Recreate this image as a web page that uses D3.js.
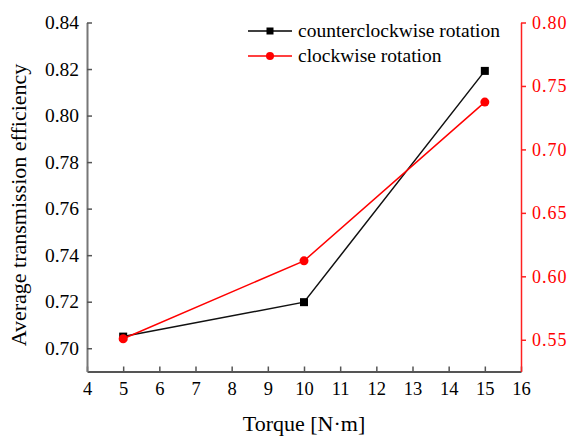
<!DOCTYPE html>
<html><head><meta charset="utf-8">
<script src="https://cdn.jsdelivr.net/npm/d3@7"></script>
<style>body{margin:0;background:#fff}svg{display:block}svg text{font-family:"Times New Roman","Liberation Serif",serif !important}</style>
</head><body><svg id="c" width="575" height="437"></svg>
<script>
const torque = [5, 10, 15];
const ccwEfficiency = [0.705, 0.7198, 0.8192];
const cwEfficiency = [0.5508, 0.6122, 0.7373];
const xTicks = [4,5,6,7,8,9,10,11,12,13,14,15,16];
const leftTicks = [0.70,0.72,0.74,0.76,0.78,0.80,0.82,0.84];
const rightTicks = [0.55,0.60,0.65,0.70,0.75,0.80];
const seriesNames = ["counterclockwise rotation","clockwise rotation"];

const L=87, R=521, T=22.5, B=371.5;
const svg=d3.select("#c");
const x=d3.scaleLinear().domain([4,16]).range([L,R]);
const yL=d3.scaleLinear().domain([0.69,0.84]).range([B,T]);
const yR=d3.scaleLinear().domain([0.525,0.80]).range([B,T]);
const FF='"Times New Roman","Liberation Serif",serif';

// bottom axis (ticks inward)
const gx=svg.append("g").attr("transform",`translate(0,${B})`)
  .call(d3.axisBottom(x).tickValues(xTicks).tickFormat(d3.format("d")).tickSizeInner(-5).tickSizeOuter(0).tickPadding(10));
gx.attr("font-family",FF);
gx.select(".domain").attr("stroke","#555").attr("stroke-width",2);
gx.selectAll(".tick line").attr("stroke","#555").attr("stroke-width",1.5);
gx.selectAll("text").attr("font-size",18.5).attr("fill","#000").style("font-family",FF);

// left axis (ticks inward)
const gl=svg.append("g").attr("transform",`translate(${L},0)`)
  .call(d3.axisLeft(yL).tickValues(leftTicks).tickFormat(d3.format(".2f")).tickSizeInner(-5).tickSizeOuter(0).tickPadding(8));
gl.attr("font-family",FF);
gl.select(".domain").attr("stroke","#777").attr("stroke-width",2);
gl.selectAll(".tick line").attr("stroke","#555").attr("stroke-width",1.5);
gl.selectAll("text").attr("font-size",19.5).attr("fill","#000").style("font-family",FF);

// right axis (ticks outward, red)
const gr=svg.append("g").attr("transform",`translate(${R},0)`)
  .call(d3.axisRight(yR).tickValues(rightTicks).tickFormat(d3.format(".2f")).tickSize(5).tickSizeOuter(0).tickPadding(6));
gr.attr("font-family",FF);
gr.select(".domain").attr("stroke","#ff2020").attr("stroke-width",1.5);
gr.selectAll(".tick line").attr("stroke","#ff2020").attr("stroke-width",1.5);
gr.selectAll("text").attr("font-size",18).attr("fill","#ff0000").attr("letter-spacing","1px").style("font-family",FF);

// axis titles
svg.append("text").attr("transform",`translate(26,${(T+B)/2+8}) rotate(-90)`).attr("text-anchor","middle")
  .attr("font-size",22).style("font-family",FF).text("Average transmission efficiency");
svg.append("text").attr("x",(L+R)/2).attr("y",431).attr("text-anchor","middle")
  .attr("font-size",22).style("font-family",FF).text("Torque [N·m]");

// series
const ccw=torque.map((t,i)=>[t,ccwEfficiency[i]]);
const cw=torque.map((t,i)=>[t,cwEfficiency[i]]);
svg.append("path").datum(ccw).attr("fill","none").attr("stroke","#111").attr("stroke-width",1.5)
  .attr("d",d3.line().x(d=>x(d[0])).y(d=>yL(d[1])));
svg.append("path").datum(cw).attr("fill","none").attr("stroke","#ff0000").attr("stroke-width",1.5)
  .attr("d",d3.line().x(d=>x(d[0])).y(d=>yR(d[1])));
svg.selectAll(".sq").data(ccw).enter().append("rect")
  .attr("x",d=>x(d[0])-4).attr("y",d=>yL(d[1])-4).attr("width",8).attr("height",8).attr("fill","#000");
svg.selectAll(".ci").data(cw).enter().append("circle")
  .attr("cx",d=>x(d[0])).attr("cy",d=>yR(d[1])).attr("r",4.5).attr("fill","#ff0000");

// legend
const lg=svg.append("g");
const ly=[31,56];
lg.append("line").attr("x1",248).attr("x2",292).attr("y1",ly[0]).attr("y2",ly[0]).attr("stroke","#000").attr("stroke-width",1.5);
lg.append("rect").attr("x",270-3.5).attr("y",ly[0]-3.5).attr("width",7).attr("height",7).attr("fill","#000");
lg.append("line").attr("x1",248).attr("x2",292).attr("y1",ly[1]).attr("y2",ly[1]).attr("stroke","#ff0000").attr("stroke-width",1.5);
lg.append("circle").attr("cx",270).attr("cy",ly[1]).attr("r",4).attr("fill","#ff0000");
seriesNames.forEach((n,i)=>lg.append("text").attr("x",298).attr("y",ly[i]+6).attr("font-size",19.5).style("font-family",FF).text(n));
</script></body></html>
